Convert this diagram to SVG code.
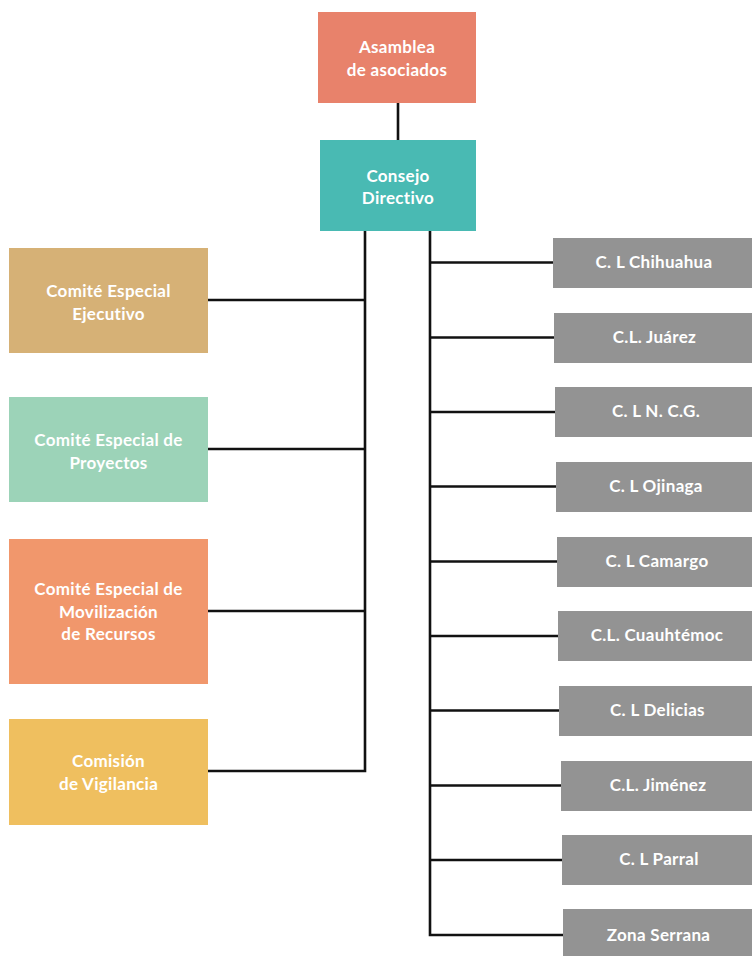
<svg xmlns="http://www.w3.org/2000/svg" width="752" height="956" viewBox="0 0 752 956">
<style>
text{font-family:"Lato","Open Sans","DejaVu Sans",sans-serif;font-weight:700;font-size:17px;letter-spacing:0.3px;fill:#fff;text-anchor:middle}
.c{fill:none;stroke:#111;stroke-width:2.6}
.g{fill:#939393}
</style>
<rect width="752" height="956" fill="#fff"/>
<g id="connectors">
<line class="c" x1="398" y1="103" x2="398" y2="140"/>
<polyline class="c" points="365,231 365,771 208,771"/>
<line class="c" x1="208" y1="300" x2="365" y2="300"/>
<line class="c" x1="208" y1="449" x2="365" y2="449"/>
<line class="c" x1="208" y1="611" x2="365" y2="611"/>
<polyline class="c" points="430,231 430,935 563,935"/>
<line class="c" x1="430" y1="262.5" x2="553" y2="262.5"/>
<line class="c" x1="430" y1="337.5" x2="554" y2="337.5"/>
<line class="c" x1="430" y1="412" x2="555" y2="412"/>
<line class="c" x1="430" y1="486.5" x2="556" y2="486.5"/>
<line class="c" x1="430" y1="561.5" x2="557" y2="561.5"/>
<line class="c" x1="430" y1="636" x2="558" y2="636"/>
<line class="c" x1="430" y1="710.5" x2="559" y2="710.5"/>
<line class="c" x1="430" y1="785.5" x2="561" y2="785.5"/>
<line class="c" x1="430" y1="860" x2="562" y2="860"/>
</g>
<g id="asamblea"><rect x="318" y="12" width="158" height="91" fill="#E8826B"/><text x="397" y="53">Asamblea</text><text x="397" y="76">de asociados</text></g>
<g id="consejo"><rect x="320" y="140" width="156" height="91" fill="#49BAB3"/><text x="398" y="181.5">Consejo</text><text x="398" y="204">Directivo</text></g>
<g id="ejecutivo"><rect x="9" y="248" width="199" height="105" fill="#D6B176"/><text x="108.5" y="297">Comité Especial</text><text x="108.5" y="319.5">Ejecutivo</text></g>
<g id="proyectos"><rect x="9" y="397" width="199" height="105" fill="#9CD3B8"/><text x="108.5" y="446">Comité Especial de</text><text x="108.5" y="468.5">Proyectos</text></g>
<g id="movilizacion"><rect x="9" y="539" width="199" height="145" fill="#F1976C"/><text x="108.5" y="595">Comité Especial de</text><text x="108.5" y="617.5">Movilización</text><text x="108.5" y="640">de Recursos</text></g>
<g id="vigilancia"><rect x="9" y="719" width="199" height="106" fill="#EFBF5F"/><text x="108.5" y="767">Comisión</text><text x="108.5" y="789.5">de Vigilancia</text></g>
<g id="chihuahua"><rect class="g" x="553" y="238" width="199" height="50"/><text x="654" y="268">C. L Chihuahua</text></g>
<g id="juarez"><rect class="g" x="554" y="313" width="198" height="50"/><text x="654.5" y="343">C.L. Juárez</text></g>
<g id="ncg"><rect class="g" x="555" y="387" width="197" height="50"/><text x="656" y="417">C. L N. C.G.</text></g>
<g id="ojinaga"><rect class="g" x="556" y="462" width="196" height="50"/><text x="656" y="492">C. L Ojinaga</text></g>
<g id="camargo"><rect class="g" x="557" y="537" width="195" height="50"/><text x="657" y="567">C. L Camargo</text></g>
<g id="cuauhtemoc"><rect class="g" x="558" y="611" width="194" height="50"/><text x="657" y="641">C.L. Cuauhtémoc</text></g>
<g id="delicias"><rect class="g" x="559" y="686" width="193" height="50"/><text x="657.5" y="716">C. L Delicias</text></g>
<g id="jimenez"><rect class="g" x="561" y="761" width="191" height="50"/><text x="658" y="791">C.L. Jiménez</text></g>
<g id="parral"><rect class="g" x="562" y="835" width="190" height="50"/><text x="659" y="865">C. L Parral</text></g>
<g id="serrana"><rect class="g" x="563" y="909" width="189" height="47"/><text x="658.5" y="941">Zona Serrana</text></g>
</svg>
